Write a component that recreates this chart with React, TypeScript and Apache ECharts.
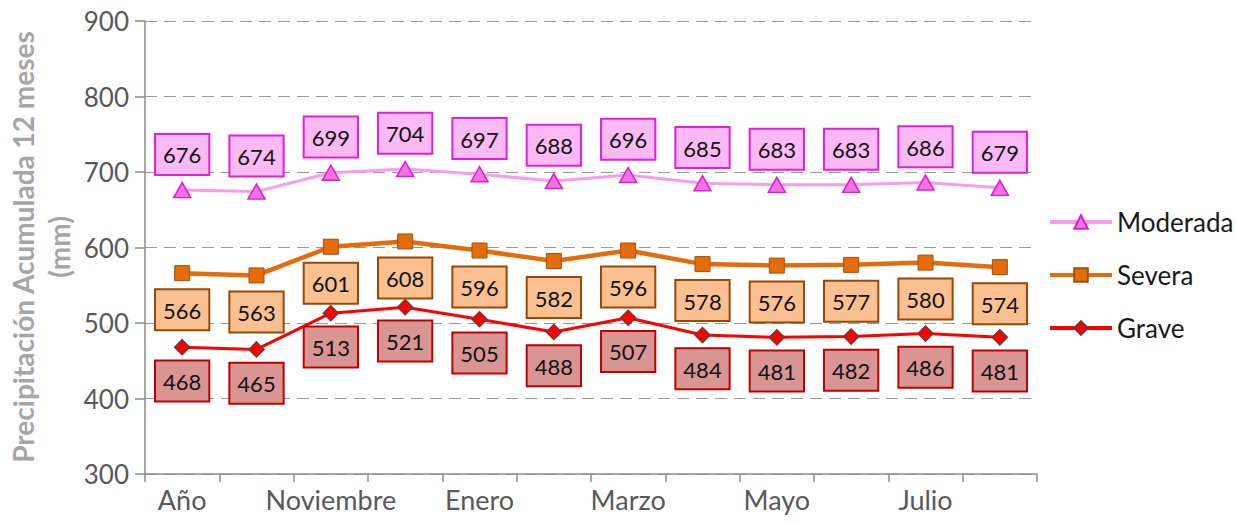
import React, { useEffect, useRef } from "react";
import * as echarts from "echarts";

const categories = ["Año", "Octubre", "Noviembre", "Diciembre", "Enero", "Febrero", "Marzo", "Abril", "Mayo", "Junio", "Julio", "Agosto"];
const moderada = [676, 674, 699, 704, 697, 688, 696, 685, 683, 683, 686, 679];
const severa = [566, 563, 601, 608, 596, 582, 596, 578, 576, 577, 580, 574];
const grave = [468, 465, 513, 521, 505, 488, 507, 484, 481, 482, 486, 481];
const yTicks = { min: 300, max: 900, interval: 100 };
const yAxisTitle = "Precipitación Acumulada 12 meses\n(mm)";

const FONT = "Lato, 'Open Sans', sans-serif";

export default function App() {
  const ref = useRef<HTMLDivElement>(null);
  useEffect(() => {
    if (!ref.current) return;
    const chart = echarts.init(ref.current, undefined, { renderer: "svg" });
    const labelBase = {
      show: true,
      fontFamily: FONT,
      fontSize: 22,
      color: "#111",
      padding: [9, 7, 8, 7],
      borderWidth: 2,
    };
    chart.setOption({
      animation: false,
      textStyle: { fontFamily: FONT },
      grid: { left: 145, right: 199, top: 21, bottom: 52 },
      legend: {
        orient: "vertical",
        left: 1043,
        top: 202,
        itemWidth: 62,
        itemHeight: 17,
        itemGap: 23,
        lineStyle: { width: 4 },
        textStyle: { fontFamily: FONT, fontSize: 26, color: "#1a1a1a", lineHeight: 30 },
        data: ["Moderada", "Severa", "Grave"],
      },
      graphic: [
        {
          type: "text",
          x: 41,
          y: 247,
          rotation: Math.PI / 2,
          style: {
            text: yAxisTitle,
            fontFamily: FONT,
            fontSize: 28,
            fontWeight: "bold",
            fill: "#A6A6A6",
            textAlign: "center",
            textVerticalAlign: "middle",
            lineHeight: 36,
          },
        },
      ],
      xAxis: {
        type: "category",
        data: categories,
        boundaryGap: true,
        axisLine: { show: true, lineStyle: { color: "#8c8c8c", width: 1.5 } },
        axisTick: { show: true, interval: 0, length: 8, lineStyle: { color: "#8c8c8c", width: 1.5 } },
        axisLabel: { interval: 1, fontFamily: FONT, fontSize: 27, color: "#595959", margin: 12 },
      },
      yAxis: {
        type: "value",
        min: yTicks.min,
        max: yTicks.max,
        interval: yTicks.interval,
        axisLine: { show: true, lineStyle: { color: "#8c8c8c", width: 1.5 } },
        axisTick: { show: true, length: 10, lineStyle: { color: "#8c8c8c", width: 1.5 } },
        axisLabel: { fontFamily: FONT, fontSize: 26, color: "#595959", margin: 16 },
        splitLine: { show: true, lineStyle: { color: "#9a9a9a", width: 1.2, type: [12, 7] } },
      },
      series: [
        {
          name: "Moderada",
          type: "line",
          data: moderada,
          symbol: "triangle",
          symbolSize: [17, 15],
          lineStyle: { color: "#F99CEB", width: 3 },
          itemStyle: { color: "#F373E3", borderColor: "#E21BD6", borderWidth: 1.5 },
          label: { ...labelBase, position: "top", distance: 8, backgroundColor: "#FBBAF4", borderColor: "#E41FD9" },
        },
        {
          name: "Severa",
          type: "line",
          data: severa,
          symbol: "rect",
          symbolSize: 15,
          lineStyle: { color: "#E46C0A", width: 4.5 },
          itemStyle: { color: "#E46C0A", borderColor: "#A0500C", borderWidth: 1 },
          label: { ...labelBase, position: "bottom", distance: 9, backgroundColor: "#FAC090", borderColor: "#984807" },
        },
        {
          name: "Grave",
          type: "line",
          data: grave,
          symbol: "diamond",
          symbolSize: 15,
          lineStyle: { color: "#FF0000", width: 3 },
          itemStyle: { color: "#FF0000", borderColor: "#7A3535", borderWidth: 1.5 },
          label: { ...labelBase, position: "bottom", distance: 6, backgroundColor: "#D99594", borderColor: "#C00000" },
        },
      ],
    });
    return () => chart.dispose();
  }, []);
  return <div ref={ref} style={{ position: "absolute", left: 0, top: 0, width: 1236, height: 526 }} />;
}
